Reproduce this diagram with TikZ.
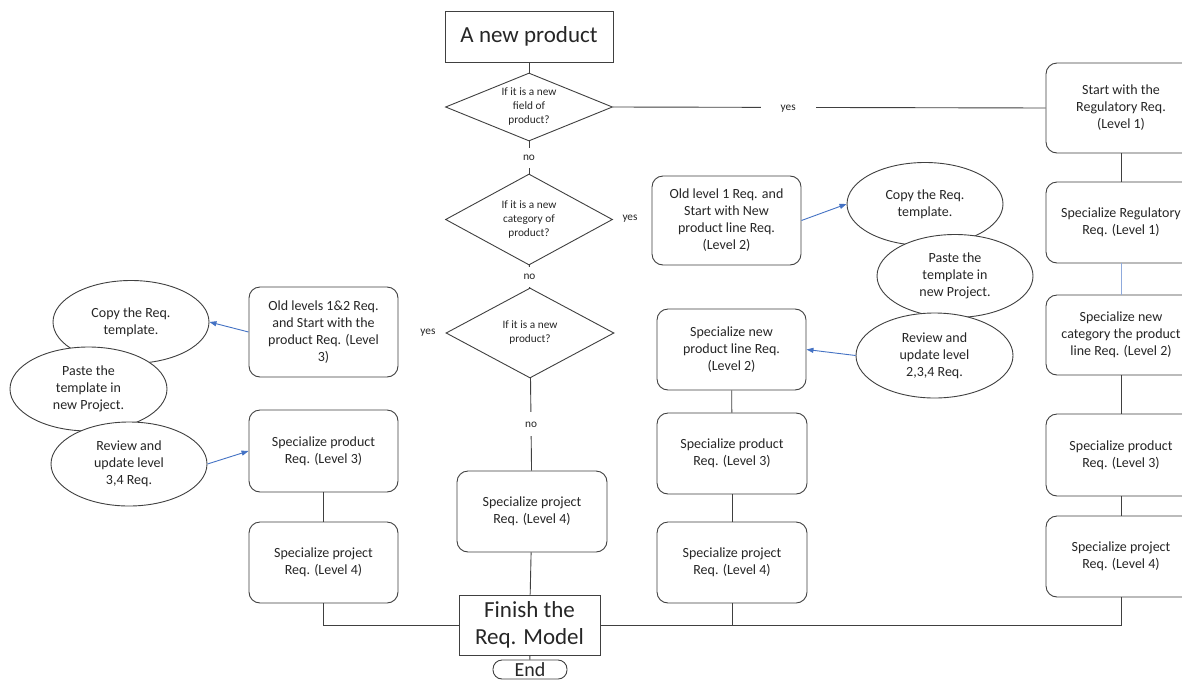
\documentclass[tikz,border=0pt]{standalone}
\usepackage{fontspec}
\setmainfont{Carlito}
\usetikzlibrary{shapes.geometric,arrows.meta}
\definecolor{ink}{HTML}{262626}
\definecolor{edge}{HTML}{404040}
\definecolor{arrowblue}{HTML}{4472C4}
\definecolor{paleblue}{HTML}{8FAADC}
\tikzset{
  rbox/.style={draw=edge, line width=0.9pt, rounded corners=11pt, fill=white,
    minimum width=150pt, minimum height=81pt, align=center, text=ink,
    font=\fontsize{14}{17}\selectfont, inner sep=2pt},
  sbox/.style={draw=edge, line width=0.9pt, fill=white, align=center, text=ink,
    font=\fontsize{23}{27.7}\selectfont, inner sep=2pt},
  dia/.style={draw=edge, line width=0.9pt, diamond, fill=white, align=center, text=ink,
    font=\fontsize{11.3}{14}\selectfont, inner sep=0pt},
  oval/.style={draw=edge, line width=0.9pt, ellipse, fill=white, align=center, text=ink,
    font=\fontsize{14}{17}\selectfont, inner sep=0pt,
    minimum width=156pt, minimum height=83pt},
  link/.style={draw=edge, line width=0.9pt},
  bluelink/.style={draw=arrowblue, line width=0.9pt,
    -{Triangle[length=7pt,width=5pt]}},
  palelink/.style={draw=paleblue, line width=0.9pt},
  tag/.style={font=\fontsize{11.3}{14}\selectfont, text=ink, fill=white,
    text height=7pt, text depth=1pt, inner ysep=6pt, inner xsep=2pt},
  freetag/.style={font=\fontsize{11.3}{14}\selectfont, text=ink, inner sep=1pt},
}
\begin{document}
\begin{tikzpicture}[x=1pt,y=-1pt]
\useasboundingbox (0,0) rectangle (1182,680);
\fill[white] (0,0) rectangle (1182,680);

% main decision spine
\node[sbox, minimum width=168pt, minimum height=51pt] (start) at (529,36.5) {A new product};
\node[dia, minimum width=167pt, minimum height=68pt, aspect=2.45] (qfield) at (529,107)
  {If it is a new\\field of\\product?};
\node[dia, minimum width=167pt, minimum height=91pt, aspect=1.8] (qcat) at (529,219.5)
  {If it is a new\\category of\\product?};
\node[dia, minimum width=168pt, minimum height=90pt, aspect=1.8] (qprod) at (530,333)
  {If it is a new\\product?};
\node[rbox] (midproj) at (532,511.5) {Specialize project\\Req. (Level 4)};
\node[sbox, minimum width=141pt, minimum height=60pt] (finish) at (529.5,625)
  {Finish the\\Req. Model};
\node[draw=edge, line width=0.9pt, fill=white, rounded corners=9pt, text=ink,
  minimum width=74pt, minimum height=19pt, inner sep=0pt,
  font=\fontsize{20}{24}\selectfont] (stop) at (530,669.5) {End};

% column for a new category
\node[rbox, minimum width=149pt, minimum height=89pt] (catold) at (726.5,220.5)
  {Old level 1 Req. and\\Start with New\\product line Req.\\(Level 2)};
\node[rbox, minimum width=149pt] (catline) at (731.5,349.5)
  {Specialize new\\product line Req.\\(Level 2)};
\node[rbox] (catprod) at (732,453.5) {Specialize product\\Req. (Level 3)};
\node[rbox] (catproj) at (732,562.5) {Specialize project\\Req. (Level 4)};
\node[oval] (catcopy) at (925,204) {Copy the Req.\\template.};
\node[oval] (catpaste) at (955,276) {Paste the\\template in\\new Project.};
\node[oval, minimum width=157pt, minimum height=85pt] (catreview) at (934.5,355.5)
  {Review and\\update level\\2,3,4 Req.};

% column for a new field
\node[rbox, minimum height=90pt] (regstart) at (1121,108)
  {Start with the\\Regulatory Req.\\(Level 1)};
\node[rbox] (regspec) at (1121,222.5) {Specialize Regulatory\\Req. (Level 1)};
\node[rbox, minimum height=80pt] (regcat) at (1121,335)
  {Specialize new\\category the product\\line Req. (Level 2)};
\node[rbox, minimum height=82pt] (regprod) at (1121,455) {Specialize product\\Req. (Level 3)};
\node[rbox] (regproj) at (1121,556.5) {Specialize project\\Req. (Level 4)};

% column for a new product
\node[rbox, minimum width=149pt, minimum height=90pt] (prodold) at (323.5,332)
  {Old levels 1\&2 Req.\\and Start with the\\product Req. (Level\\3)};
\node[rbox, minimum width=149pt, minimum height=82pt] (prodspec) at (323.5,451)
  {Specialize product\\Req. (Level 3)};
\node[rbox, minimum width=149pt] (prodproj) at (323.5,562.5)
  {Specialize project\\Req. (Level 4)};
\node[oval] (prodcopy) at (131,322) {Copy the Req.\\template.};
\node[oval, minimum width=157pt, minimum height=84pt] (prodpaste) at (88.5,389)
  {Paste the\\template in\\new Project.};
\node[oval, minimum height=84pt] (prodreview) at (129,464)
  {Review and\\update level\\3,4 Req.};

% labels without connectors
\node[freetag] at (630,219) {yes};
\node[freetag] at (428,333) {yes};

% spine connectors
\draw[link] (start) -- (qfield);
\draw[link] (qfield) -- node[tag] {no} (qcat);
\draw[link] (qcat) -- node[tag] {no} (qprod);
\draw[link] (qprod) -- node[tag, inner ysep=8pt] {no} (midproj);
\draw[link] (qfield.east) -- node[tag, pos=0.405, minimum width=55pt] {yes} (regstart.west);
\draw[link] (midproj) -- (finish);
\draw[link] (finish) -- (stop);

% column connectors
\draw[link] (catline) -- (catprod);
\draw[link] (catprod) -- (catproj);
\draw[link] (regstart) -- (regspec);
\draw[palelink] (regspec) -- (regcat);
\draw[link] (regcat) -- (regprod);
\draw[link] (regprod) -- (regproj);
\draw[link] (prodspec) -- (prodproj);

% joins into the finish box
\draw[link] (prodproj.south) |- (finish.west);
\draw[link] (regproj.south) |- (finish.east);
\draw[link] (catproj.south) -- (catproj.south |- finish.east);

% template steps
\draw[bluelink] (catold.east) -- (catcopy.west);
\draw[bluelink] (catreview.west) -- (catline.east);
\draw[bluelink] (prodold.west) -- (prodcopy.east);
\draw[bluelink] (prodreview.east) -- (prodspec.west);
\end{tikzpicture}
\end{document}
